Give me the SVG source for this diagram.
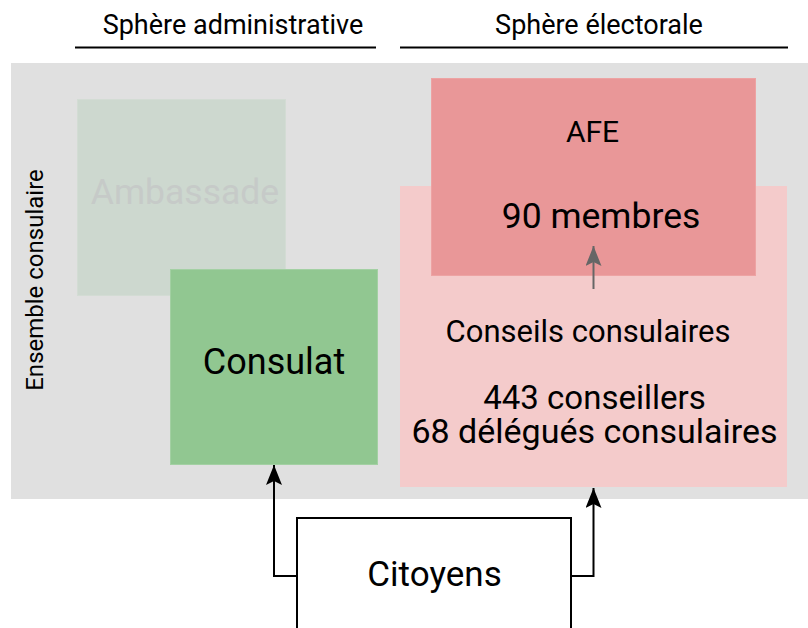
<svg xmlns="http://www.w3.org/2000/svg" width="808" height="628" viewBox="0 0 808 628">
<defs>
<style>
text{font-family:Roboto,"Liberation Sans",sans-serif;fill:#000;}
.hdr{font-size:27px;text-anchor:middle;}
.lbl{text-anchor:middle;}
.rule{stroke:#000;stroke-width:2;}
.conn{fill:none;stroke:#000;stroke-width:2;}
.inner{fill:none;stroke:#666;stroke-width:2;}
</style>
<marker id="ah" viewBox="0 0 20 16" refX="20" refY="8" markerWidth="20" markerHeight="16" markerUnits="userSpaceOnUse" orient="auto">
<path d="M0,0 L20,8 L0,16 L4,8 z" fill="#000"/>
</marker>
<marker id="ahg" viewBox="0 0 20 16" refX="20" refY="8" markerWidth="20" markerHeight="16" markerUnits="userSpaceOnUse" orient="auto">
<path d="M0,0 L20,8 L0,16 L4,8 z" fill="#666"/>
</marker>
</defs>
<rect width="808" height="628" fill="#fff"/>
<g id="headers">
<text class="hdr" x="233" y="34">Sphère administrative</text>
<line class="rule" x1="75" y1="47.5" x2="376" y2="47.5"/>
<text class="hdr" x="599" y="34">Sphère électorale</text>
<line class="rule" x1="400" y1="47.5" x2="788" y2="47.5"/>
</g>
<g id="ensemble">
<rect x="11" y="63" width="797" height="436" fill="#e0e0e0"/>
<text transform="translate(43,280) rotate(-90)" class="lbl" style="font-size:24px">Ensemble consulaire</text>
</g>
<g id="ambassade">
<rect x="77.5" y="99.5" width="208" height="196" fill="#cdd8cf" stroke="#d3dcd4" stroke-width="1"/>
<text class="lbl" x="185" y="204" style="font-size:35.5px;fill:#c6cac8">Ambassade</text>
</g>
<g id="consulat">
<rect x="170.5" y="269.5" width="207" height="195" fill="#91c791" stroke="#a3d0a3" stroke-width="1"/>
<text class="lbl" x="274" y="374" style="font-size:36px">Consulat</text>
</g>
<g id="conseils">
<rect x="400" y="186" width="387" height="301" fill="#f4cbcb"/>
<text class="lbl" x="588" y="341.5" style="font-size:31px">Conseils consulaires</text>
<text class="lbl" x="594.5" y="409" style="font-size:33px">443 conseillers</text>
<text class="lbl" x="594.5" y="442.5" style="font-size:34px">68 délégués consulaires</text>
</g>
<g id="afe">
<rect x="431.5" y="78.5" width="324" height="197" fill="#e99798" stroke="#eda3a3" stroke-width="1"/>
<text class="lbl" x="592.5" y="142" style="font-size:30px">AFE</text>
<text class="lbl" x="601" y="228" style="font-size:35.5px">90 membres</text>
</g>
<g id="citoyens">
<rect x="297" y="518" width="274" height="130" fill="#fff" stroke="#000" stroke-width="2"/>
<text class="lbl" x="434.5" y="586" style="font-size:35px">Citoyens</text>
</g>
<g id="connectors">
<path class="conn" d="M297,576 H274 V465" marker-end="url(#ah)"/>
<path class="conn" d="M571,576 H593.5 V488" marker-end="url(#ah)"/>
<path class="inner" d="M593.5,289 V246" marker-end="url(#ahg)"/>
</g>
</svg>
